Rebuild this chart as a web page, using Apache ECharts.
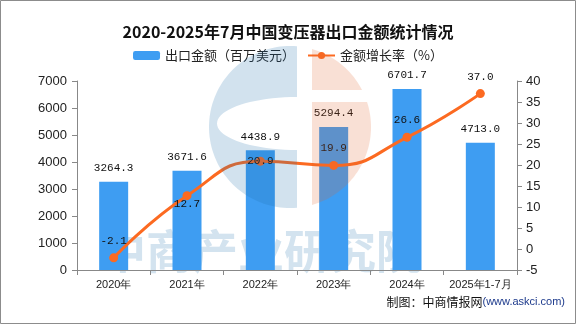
<!DOCTYPE html>
<html>
<head>
<meta charset="utf-8">
<style>
  html, body { margin: 0; padding: 0; background: #fff; }
  #chart { width: 576px; height: 324px; }
</style>
<script src="https://cdn.jsdelivr.net/npm/echarts@6/dist/echarts.min.js"></script>
</head>
<body>
<div id="chart"></div>
<script>
// Export value of transformers, 2020 – Jan-Jul 2025
const years = ['2020年', '2021年', '2022年', '2023年', '2024年', '2025年1-7月'];
const exportValue = [3264.3, 3671.6, 4438.9, 5294.4, 6701.7, 4713.0];   // million USD
const growthRate = [-2.1, 12.7, 20.9, 19.9, 26.6, 37.0];                // %
const leftTicks = { min: 0, max: 7000, interval: 1000 };
const rightTicks = { min: -5, max: 40, interval: 5 };

// where each growth label sits relative to its point
const growthLabelPlacement = ['top', 'bottom', 'inside', 'top', 'top', 'top'];

const BAR_COLOR = '#3e9df2';
const LINE_COLOR = '#fc6a21';
const LABEL_FONT = 'Liberation Mono';
const AXIS_FONT = 'Liberation Sans';
const CJK_FONT = 'Noto Sans CJK SC';

// ---- background logo shapes ----
function circlePoly(cx, cy, r, n) {
  const pts = [];
  for (let i = 0; i < n; i++) {
    const a = (i / n) * Math.PI * 2;
    pts.push([cx + r * Math.cos(a), cy + r * Math.sin(a)]);
  }
  return pts;
}
function clipHalf(poly, axis, v, sign) {
  const out = [];
  for (let i = 0; i < poly.length; i++) {
    const a = poly[i], b = poly[(i + 1) % poly.length];
    const ina = sign * (a[axis] - v) >= 0, inb = sign * (b[axis] - v) >= 0;
    if (ina) out.push(a);
    if (ina !== inb) {
      const t = (v - a[axis]) / (b[axis] - a[axis]);
      out.push([a[0] + t * (b[0] - a[0]), a[1] + t * (b[1] - a[1])]);
    }
  }
  return out;
}
const LC = { x: 290, y: 127, r: 81 };
function blueC() {
  const cut = 297;
  const phi = Math.acos((cut - LC.x) / LC.r);
  const pts = [];
  const n = 80;
  for (let i = 0; i <= n; i++) {
    const a = -phi - (i / n) * (2 * Math.PI - 2 * phi);
    pts.push([LC.x + LC.r * Math.cos(a), LC.y + LC.r * Math.sin(a)]);
  }
  const ex = 297, ey = 123.5, rx = 80, ry = 26.5;
  for (let i = 0; i <= 40; i++) {
    const a = Math.PI / 2 + (i / 40) * Math.PI;
    pts.push([ex + rx * Math.cos(a), ey + ry * Math.sin(a)]);
  }
  return pts;
}
const circ = circlePoly(LC.x, LC.y, LC.r, 160);
const orangeTop = clipHalf(clipHalf(circ, 0, 312, 1), 1, 90, -1);
const orangeBottom = clipHalf(clipHalf(circ, 0, 312, 1), 1, 102, 1);

const chart = echarts.init(document.getElementById('chart'), null, { renderer: 'canvas' });

const option = {
  backgroundColor: '#ffffff',
  animation: false,
  title: {
    text: '2020-2025年7月中国变压器出口金额统计情况',
    left: 'center',
    top: 19,
    textStyle: { fontFamily: CJK_FONT, fontSize: 16, fontWeight: 'bold', color: '#111' }
  },
  legend: {
    top: 44,
    left: 'center',
    itemWidth: 27,
    itemHeight: 9,
    itemGap: 12,
    textStyle: { fontFamily: CJK_FONT, fontSize: 13, color: '#222' },
    data: ['出口金额（百万美元）', '金额增长率（%）']
  },
  grid: { left: 77, right: 59, top: 81, bottom: 54 },
  xAxis: {
    type: 'category',
    data: years,
    axisLine: { lineStyle: { color: '#888', width: 1 } },
    axisTick: { show: true, length: 5, lineStyle: { color: '#888' } },
    axisLabel: { fontFamily: AXIS_FONT, fontSize: 11, color: '#222', margin: 9, interval: 0 }
  },
  yAxis: [
    {
      type: 'value',
      min: leftTicks.min, max: leftTicks.max, interval: leftTicks.interval,
      axisLine: { show: true, lineStyle: { color: '#888' } },
      axisTick: { show: true, length: 5, lineStyle: { color: '#888' } },
      axisLabel: { fontFamily: AXIS_FONT, fontSize: 13, color: '#222', margin: 10, formatter: v => String(v) },
      splitLine: { show: false }
    },
    {
      type: 'value',
      min: rightTicks.min, max: rightTicks.max, interval: rightTicks.interval,
      axisLine: { show: true, lineStyle: { color: '#888' } },
      axisTick: { show: true, length: 5, lineStyle: { color: '#888' } },
      axisLabel: { fontFamily: AXIS_FONT, fontSize: 13, color: '#222', margin: 9, formatter: v => String(v) },
      splitLine: { show: false }
    }
  ],
  series: [
    {
      name: '出口金额（百万美元）',
      type: 'bar',
      data: exportValue,
      barWidth: 29,
      itemStyle: { color: BAR_COLOR },
      label: {
        show: true,
        position: 'top',
        distance: 8,
        fontFamily: LABEL_FONT,
        fontSize: 11,
        color: '#111',
        formatter: p => p.value.toFixed(1)
      }
    },
    {
      name: '金额增长率（%）',
      type: 'line',
      yAxisIndex: 1,
      smooth: true,
      symbol: 'circle',
      symbolSize: 9,
      itemStyle: { color: LINE_COLOR },
      lineStyle: { color: LINE_COLOR, width: 3 },
      data: growthRate.map((v, i) => ({
        value: v,
        label: {
          position: growthLabelPlacement[i],
          distance: growthLabelPlacement[i] === 'bottom' ? -2 : 7
        }
      })),
      label: {
        show: true,
        fontFamily: LABEL_FONT,
        fontSize: 11,
        color: '#111',
        formatter: p => p.value.toFixed(1)
      }
    }
  ],
  graphic: [
    {
      type: 'text',
      z: 0,
      left: 100, top: 228,
      style: {
        text: '中商产业研究院',
        font: 'bold 46px "Noto Sans CJK SC"',
        fill: '#d3e3ef'
      }
    },
    {
      type: 'polygon', z: 50, silent: true,
      shape: { points: blueC() },
      style: { fill: 'rgba(31,111,168,0.2)' }
    },
    {
      type: 'polygon', z: 50, silent: true,
      shape: { points: orangeTop },
      style: { fill: 'rgba(225,100,45,0.2)' }
    },
    {
      type: 'polygon', z: 50, silent: true,
      shape: { points: orangeBottom },
      style: { fill: 'rgba(225,100,45,0.2)' }
    },
    {
      type: 'text',
      right: 11, top: 296,
      style: {
        text: '{a|制图：中商情报网}{b|(www.askci.com)}',
        rich: {
          a: { fontFamily: CJK_FONT, fontSize: 12, fill: '#111' },
          b: { fontFamily: AXIS_FONT, fontSize: 11, fill: '#1d3a8c' }
        }
      }
    },
    {
      type: 'rect', z: 100, silent: true,
      shape: { x: 0.5, y: 0.5, width: 575, height: 323 },
      style: { fill: 'none', stroke: '#8c8c8c', lineWidth: 1 }
    }
  ]
};

chart.setOption(option);
</script>
</body>
</html>
